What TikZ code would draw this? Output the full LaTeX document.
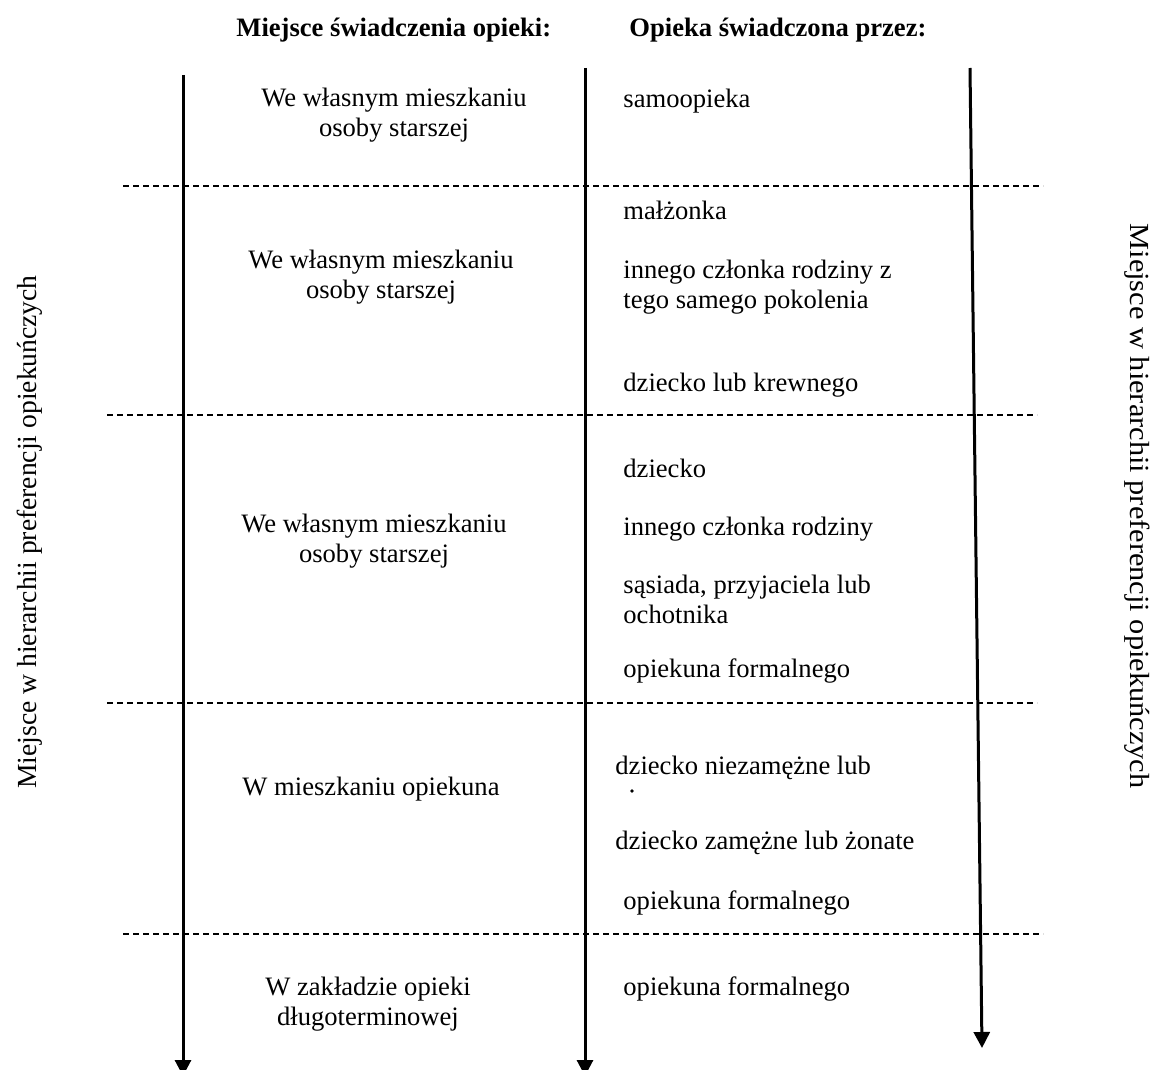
\documentclass[tikz,border=0pt]{standalone}
\usepackage{fontspec}
\setmainfont{Liberation Serif}
\usetikzlibrary{arrows.meta}
\begin{document}
\begin{tikzpicture}[x=0.5pt,y=-0.5pt,font=\fontsize{13.3pt}{15pt}\selectfont]
    \tikzstyle{txt} = [inner sep=0pt,anchor=base]
    \tikzstyle{place} = [txt,align=center]
    \tikzstyle{who} = [txt,anchor=base west,align=left]
    \tikzstyle{axis} = [line width=1.5pt,-{Triangle[width=8pt,length=8pt]}]
    \tikzstyle{sep} = [line width=0.8pt,dash pattern=on 3pt off 2pt]
    \useasboundingbox (0,0) rectangle (1162,1070);

    % headers
    \node [txt,anchor=base west] (h1) at (236,37) {\bfseries Miejsce świadczenia opieki:};
    \node [txt,anchor=base west] (h2) at (629,37) {\bfseries Opieka świadczona przez:};

    % arrows
    \coordinate (a1) at (183,75);
    \coordinate (b1) at (183,1076);
    \coordinate (a2) at (585,68);
    \coordinate (b2) at (585,1076);
    \coordinate (a3) at (970,68);
    \coordinate (b3) at (982,1048);
    \draw [axis] (a1) -- (b1);
    \draw [axis] (a2) -- (b2);
    \draw [axis] (a3) -- (b3);

    % separators
    \coordinate (s1l) at (123,186);  \coordinate (s1r) at (1043,186);
    \coordinate (s2l) at (107,415);  \coordinate (s2r) at (1037,415);
    \coordinate (s3l) at (107,703);  \coordinate (s3r) at (1037,703);
    \coordinate (s4l) at (123,934);  \coordinate (s4r) at (1043,934);
    \draw [sep] (s1l) -- (s1r);
    \draw [sep] (s2l) -- (s2r);
    \draw [sep] (s3l) -- (s3r);
    \draw [sep] (s4l) -- (s4r);

    % places (base = last line)
    \node [place] (p1) at (394,137) {We własnym mieszkaniu\\osoby starszej};
    \node [place] (p2) at (381,298) {We własnym mieszkaniu\\osoby starszej};
    \node [place] (p3) at (374,562) {We własnym mieszkaniu\\osoby starszej};
    \node [place] (p4) at (371,795) {W mieszkaniu opiekuna};
    \node [place] (p5) at (368,1025) {W zakładzie opieki\\długoterminowej};

    % carers
    \node [who] (c1) at (623,108) {samoopieka};
    \node [who] (c2) at (623,220) {małżonka};
    \node [who] (c3) at (623,308) {innego członka rodziny z\\tego samego pokolenia};
    \node [who] (c4) at (623,391) {dziecko lub krewnego};
    \node [who] (c5) at (623,477) {dziecko};
    \node [who] (c6) at (623,535) {innego członka rodziny};
    \node [who] (c7) at (623,623) {sąsiada, przyjaciela lub\\ochotnika};
    \node [who] (c8) at (623,677) {opiekuna formalnego};
    \node [who] (c9) at (615,774) {dziecko niezamężne lub};
    \node [circle,fill,inner sep=0.7pt] (dot) at (632,791) {};
    \node [who] (c10) at (615,849) {dziecko zamężne lub żonate};
    \node [who] (c11) at (623,909) {opiekuna formalnego};
    \node [who] (c12) at (623,995) {opiekuna formalnego};

    % side labels
    \node [txt,anchor=center,rotate=90,font=\fontsize{13.8pt}{15pt}\selectfont] (lside) at (30,532) {Miejsce w hierarchii preferencji opiekuńczych};
    \node [txt,anchor=center,rotate=-90,font=\fontsize{13.8pt}{15pt}\selectfont] (rside) at (1137,506) {\scalebox{1.1}[1]{Miejsce w hierarchii preferencji opiekuńczych}};
\end{tikzpicture}
\end{document}
